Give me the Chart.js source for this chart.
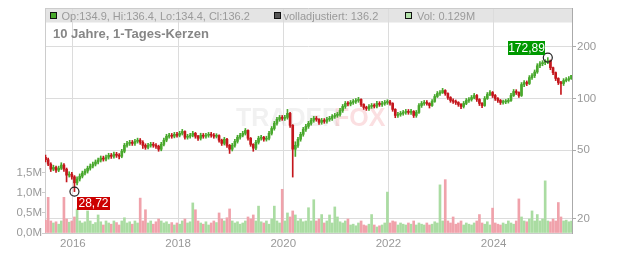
<!DOCTYPE html>
<html>
<head>
<meta charset="utf-8">
<script src="https://cdn.jsdelivr.net/npm/chart.js@4/dist/chart.umd.min.js"></script>
<style>
  html, body { margin: 0; padding: 0; background: #fff; }
  #chart { display: block; }
</style>
</head>
<body>
<canvas id="chart" width="632" height="253"></canvas>
<script>
// half-monthly candles, mid 2015 to mid 2025
const startYear = 2015.48;
const candlesPerYear = 20;
const firstOpen = 45.5;

const closes = [
  44.0, 41.5, 38.8, 39.7, 38.3, 39.3, 41.0, 38.8, 35.8, 36.3,
  35.0, 32.3, 34.0, 35.3, 36.8, 37.8, 39.3, 40.4, 41.5, 42.7,
  43.8, 45.0, 44.4, 45.6, 46.7, 46.1, 47.4, 46.7, 46.1, 49.3,
  53.4, 54.8, 55.6, 54.8, 56.3, 57.2, 55.6, 53.4, 52.0, 53.4,
  54.1, 53.4, 52.7, 50.7, 54.1, 57.2, 60.3, 61.1, 60.3, 61.9,
  61.1, 62.7, 64.3, 59.5, 60.3, 61.1, 62.7, 60.3, 58.7, 61.1,
  60.3, 61.1, 61.9, 61.1, 60.3, 60.8, 57.2, 54.8, 57.9, 53.4,
  50.7, 53.4, 56.3, 59.5, 61.1, 62.7, 65.2, 58.7, 54.1, 51.4,
  55.6, 58.7, 59.5, 57.9, 58.7, 62.7, 66.9, 71.7, 75.6, 77.6,
  76.6, 77.6, 81.9, 69.8, 50.7, 53.4, 57.9, 61.9, 66.1, 68.8,
  71.7, 74.6, 76.6, 75.6, 72.6, 74.6, 73.6, 75.6, 76.6, 78.6,
  79.7, 80.8, 85.2, 89.9, 93.6, 92.8, 94.8, 96.1, 97.4, 98.7,
  92.3, 88.7, 87.5, 89.9, 91.0, 90.2, 93.6, 92.3, 93.6, 94.8,
  95.5, 93.6, 86.4, 79.7, 80.8, 81.9, 83.0, 84.1, 83.0, 84.1,
  79.7, 83.0, 91.0, 93.6, 94.8, 93.6, 91.0, 96.1, 102.7, 106.9,
  108.3, 111.3, 106.9, 101.3, 97.4, 96.1, 94.8, 92.3, 89.9, 93.6,
  97.4, 98.7, 101.3, 104.1, 98.7, 93.6, 91.0, 100.0, 105.5, 108.3,
  104.1, 100.0, 97.4, 94.8, 95.5, 96.1, 97.4, 104.1, 109.8, 108.3,
  104.1, 120.5, 123.8, 122.2, 132.3, 135.9, 142.6, 155.0, 159.4, 161.6,
  163.8, 166.0, 151.0, 141.4, 130.8, 123.8, 122.2, 127.1, 128.8, 130.5,
  136.2
];

const highs = [
  46.8, 45.0, 42.3, 40.9, 40.5, 40.4, 42.3, 41.8, 39.4, 37.5,
  37.2, 35.6, 35.0, 36.4, 37.8, 38.9, 40.4, 41.6, 42.6, 43.9,
  45.0, 46.3, 46.2, 46.8, 48.0, 47.9, 48.7, 48.6, 47.8, 50.6,
  54.8, 56.3, 57.1, 57.0, 57.8, 58.8, 58.5, 56.8, 54.5, 54.8,
  55.6, 55.5, 54.7, 53.5, 55.6, 58.8, 61.9, 62.8, 62.6, 63.5,
  63.5, 64.4, 66.1, 64.9, 61.9, 62.8, 64.4, 63.5, 61.0, 62.8,
  62.6, 62.8, 63.5, 63.5, 62.6, 62.4, 61.5, 58.0, 59.4, 58.6,
  54.0, 54.8, 57.8, 61.1, 62.8, 64.4, 66.9, 65.8, 59.3, 54.6,
  57.0, 60.3, 61.1, 60.2, 60.3, 64.4, 68.7, 73.6, 77.6, 79.7,
  79.6, 79.7, 86.4, 83.0, 70.5, 56.0, 59.5, 63.6, 67.9, 70.7,
  73.6, 76.6, 78.7, 78.6, 76.4, 76.6, 76.4, 77.6, 78.7, 80.7,
  81.9, 83.0, 87.5, 92.3, 96.1, 96.0, 97.4, 98.7, 100.0, 101.5,
  99.5, 93.2, 90.2, 92.3, 93.5, 93.2, 96.1, 95.8, 96.1, 97.4,
  98.3, 97.5, 94.5, 87.2, 83.0, 84.1, 85.2, 86.4, 86.3, 86.4,
  85.0, 85.2, 93.5, 96.1, 97.4, 97.3, 94.5, 98.7, 105.5, 109.8,
  111.3, 114.5, 112.5, 107.8, 102.5, 99.5, 98.0, 95.8, 93.5, 96.1,
  100.0, 101.3, 104.1, 107.0, 105.5, 99.8, 94.8, 102.7, 108.3, 111.3,
  109.8, 105.5, 101.3, 98.7, 98.0, 98.7, 100.0, 107.0, 112.8, 112.5,
  109.5, 123.8, 127.1, 126.5, 135.9, 139.5, 146.5, 159.4, 163.8, 166.0,
  168.2, 172.89, 167.5, 152.5, 142.6, 132.0, 126.0, 130.5, 132.3, 134.1,
  136.4
];

const lows = [
  42.8, 40.6, 37.6, 38.0, 37.2, 37.5, 38.6, 37.6, 32.7, 34.9,
  33.9, 28.72, 31.4, 33.1, 34.5, 35.9, 36.8, 38.3, 39.4, 40.5,
  41.6, 42.7, 43.2, 43.3, 44.4, 44.8, 45.0, 45.4, 44.5, 45.2,
  48.3, 52.1, 53.3, 53.3, 53.4, 55.0, 54.1, 51.2, 50.6, 50.8,
  52.1, 52.0, 51.3, 49.3, 49.6, 53.0, 56.0, 58.8, 58.7, 59.0,
  59.5, 59.8, 61.3, 58.0, 58.0, 58.8, 59.8, 58.7, 57.0, 57.3,
  58.7, 58.8, 59.5, 59.5, 58.7, 58.9, 55.7, 53.3, 53.6, 52.0,
  47.9, 49.5, 52.1, 55.0, 58.0, 59.8, 61.3, 57.2, 52.7, 49.3,
  50.4, 54.3, 57.3, 56.4, 56.5, 57.4, 61.3, 65.4, 70.0, 73.7,
  74.6, 74.6, 75.8, 67.8, 34.9, 46.0, 52.0, 56.4, 60.3, 64.4,
  67.0, 69.9, 72.7, 73.7, 70.7, 70.8, 71.7, 71.8, 73.7, 74.6,
  76.6, 77.7, 79.0, 83.0, 87.6, 90.5, 90.6, 92.4, 93.7, 95.0,
  90.0, 86.4, 85.2, 85.3, 87.6, 88.0, 88.0, 90.0, 90.0, 91.3,
  92.4, 91.3, 84.2, 77.3, 77.7, 78.8, 79.9, 80.9, 80.9, 80.9,
  77.5, 77.7, 82.0, 88.7, 91.3, 91.3, 88.0, 89.9, 95.0, 101.3,
  104.3, 106.9, 104.3, 98.7, 95.0, 93.6, 92.3, 90.0, 87.2, 88.0,
  92.0, 95.0, 96.5, 99.5, 96.1, 91.0, 88.4, 90.0, 98.7, 103.8,
  101.3, 97.4, 94.8, 92.3, 92.6, 93.3, 94.0, 96.1, 102.7, 105.5,
  101.5, 102.7, 117.3, 118.8, 120.5, 129.0, 132.3, 140.0, 151.0, 155.0,
  157.2, 159.4, 147.0, 137.5, 127.1, 120.5, 105.5, 119.0, 124.9, 126.0,
  129.0
];

// volume in millions
const volumes = [
  0.32, 0.89, 0.30, 0.25, 0.28, 0.22, 0.30, 0.89, 0.35, 0.27,
  0.30, 0.40, 0.60, 0.30, 0.25, 0.28, 0.55, 0.30, 0.22, 0.26,
  0.45, 0.28, 0.20, 0.30, 0.25, 0.22, 0.30, 0.26, 0.20, 0.30,
  0.38, 0.25, 0.28, 0.22, 0.30, 0.25, 0.87, 0.30, 0.58, 0.25,
  0.30, 0.22, 0.28, 0.35, 0.30, 0.25, 0.28, 0.22, 0.26, 0.20,
  0.25, 0.22, 0.30, 0.35, 0.25, 0.28, 0.75, 0.58, 0.30, 0.25,
  0.22, 0.28, 0.20, 0.25, 0.30, 0.26, 0.50, 0.35, 0.30, 0.38,
  0.60, 0.30, 0.25, 0.28, 0.22, 0.25, 0.30, 0.40, 0.35, 0.45,
  0.30, 0.67, 0.28, 0.25, 0.30, 0.22, 0.35, 0.67, 0.30, 0.25,
  1.09, 0.30, 0.50, 0.40, 0.55, 0.45, 0.30, 0.35, 0.28, 0.30,
  0.63, 0.30, 0.83, 0.30, 0.35, 0.46, 0.25, 0.30, 0.45, 0.25,
  0.65, 0.40, 0.28, 0.25, 0.30, 0.35, 0.20, 0.22, 0.18, 0.25,
  0.30, 0.20, 0.18, 0.22, 0.46, 0.20, 0.15, 0.18, 0.20, 0.25,
  1.02, 0.25, 0.30, 0.28, 0.20, 0.25, 0.22, 0.20, 0.25, 0.22,
  0.30, 0.20, 0.25, 0.22, 0.20, 0.25, 0.20, 0.22, 0.28, 0.25,
  1.20, 0.30, 1.33, 0.30, 0.25, 0.40, 0.22, 0.25, 0.30, 0.20,
  0.25, 0.22, 0.20, 0.25, 0.30, 0.46, 0.25, 0.22, 0.28, 0.20,
  0.62, 0.25, 0.22, 0.20, 0.25, 0.22, 0.30, 0.25, 0.22, 0.30,
  0.85, 0.40, 0.30, 0.28, 0.35, 0.55, 0.30, 0.46, 0.30, 0.35,
  1.30, 0.30, 0.28, 0.35, 0.30, 0.76, 0.40, 0.30, 0.32, 0.28,
  0.30
];

const yearTicks = [2016, 2018, 2020, 2022, 2024];
const priceTicks = [20, 50, 100, 200];
const volumeTicks = [0, 0.5, 1.0, 1.5];

// last trading day shown in the legend band
const lastOpen = 134.9;
const lastHigh = 136.4;
const lastLow = 134.4;
const lastDayVolume = 0.129;

const upColor = '#48a82c';
const downColor = '#c4161c';
const volUpColor = '#aadca2';
const volDownColor = '#f0a2ab';
const fontFamily = '"Liberation Sans", Arial, sans-serif';

window.onload = function() {
  drawChart();
}

function fmtDe(v) {
  return v.toFixed(2).replace('.', ',');
}

function drawChart() {
  const dates = closes.map((c, i) => startYear + i / candlesPerYear);
  const opens = closes.map((c, i) => i === 0 ? firstOpen : closes[i - 1]);
  const isUp = closes.map((c, i) => c >= opens[i]);

  //min and max markers
  let minIdx = 0, maxIdx = 0;
  for (let i = 0; i < lows.length; i++) {
    if (lows[i] < lows[minIdx]) minIdx = i;
    if (highs[i] > highs[maxIdx]) maxIdx = i;
  }

  const decor = {
    id: 'decor',
    beforeDraw(chart) {
      const ctx = chart.ctx;
      const a = chart.chartArea;
      ctx.save();
      ctx.fillStyle = '#e4e4e4';
      ctx.fillRect(a.left + 1, 9, a.right - a.left - 1, 13.5);
      ctx.restore();
    },
    beforeDatasetsDraw(chart) {
      const ctx = chart.ctx;
      //watermark
      ctx.save();
      ctx.font = 'bold 25px ' + fontFamily;
      ctx.textBaseline = 'alphabetic';
      ctx.fillStyle = 'rgba(190,190,190,0.22)';
      ctx.fillText('TRADER', 236, 126);
      ctx.fillStyle = 'rgba(235,110,120,0.22)';
      ctx.fillText('FOX', 334, 126);
      ctx.restore();
    },
    afterDraw(chart) {
      const ctx = chart.ctx;
      const a = chart.chartArea;
      ctx.save();

      //frame top line
      ctx.strokeStyle = '#cccccc';
      ctx.lineWidth = 1;
      ctx.beginPath();
      ctx.moveTo(a.left, 8.5);
      ctx.lineTo(a.right, 8.5);
      ctx.stroke();

      //legend band
      ctx.font = '11px ' + fontFamily;
      ctx.textBaseline = 'alphabetic';
      const swatches = [
        [50.5, upColor, `Op:${lastOpen}, Hi:${lastHigh}, Lo:${lastLow}, Cl:${closes[closes.length - 1]}`, 61.5],
        [274.5, '#555555', `volladjustiert: ${closes[closes.length - 1]}`, 283.5],
        [405.5, '#b3e2aa', `Vol: ${lastDayVolume}M`, 417]
      ];
      swatches.forEach(s => {
        ctx.fillStyle = s[1];
        ctx.fillRect(s[0], 12.5, 6, 6);
        ctx.strokeStyle = '#111';
        ctx.strokeRect(s[0], 12.5, 6, 6);
        ctx.fillStyle = '#9a9a9a';
        ctx.fillText(s[2], s[3], 19.5);
      });

      //title
      ctx.font = 'bold 13px ' + fontFamily;
      ctx.fillStyle = '#868686';
      ctx.fillText('10 Jahre, 1-Tages-Kerzen', 53, 37.5);

      //min / max labels
      const pts = chart.getDatasetMeta(3).data;
      ctx.font = '12px ' + fontFamily;
      ctx.textBaseline = 'middle';
      ctx.textAlign = 'center';
      const lo = pts[0], hi = pts[1];
      const loTxt = fmtDe(lows[minIdx]);
      const hiTxt = fmtDe(highs[maxIdx]);
      ctx.fillStyle = '#cc0000';
      ctx.fillRect(Math.round(lo.x) + 3, Math.round(lo.y) + 5, 33, 13);
      ctx.fillStyle = '#ffffff';
      ctx.fillText(loTxt, Math.round(lo.x) + 19.5, Math.round(lo.y) + 12);
      ctx.fillStyle = '#009900';
      ctx.fillRect(Math.round(hi.x) - 40, Math.round(hi.y) - 17, 37, 14);
      ctx.fillStyle = '#ffffff';
      ctx.fillText(hiTxt, Math.round(hi.x) - 21.5, Math.round(hi.y) - 9.5);
      ctx.restore();
    }
  };

  const config = {
    type: 'bar',
    data: {
      datasets: [
        {
          label: 'Volumen',
          yAxisID: 'yVol',
          data: volumes.map((v, i) => ({ x: dates[i], y: v })),
          backgroundColor: isUp.map(u => u ? volUpColor : volDownColor),
          barThickness: 2,
          grouped: false,
          order: 4
        },
        {
          label: 'Docht',
          yAxisID: 'y',
          data: closes.map((c, i) => ({ x: dates[i], y: [lows[i], highs[i]] })),
          backgroundColor: isUp.map(u => u ? upColor : downColor),
          barThickness: 1,
          grouped: false,
          order: 3
        },
        {
          label: 'Kerze',
          yAxisID: 'y',
          data: closes.map((c, i) => ({ x: dates[i], y: [opens[i], c] })),
          backgroundColor: isUp.map(u => u ? upColor : downColor),
          barThickness: 2,
          minBarLength: 1,
          grouped: false,
          order: 2
        },
        {
          type: 'line',
          label: 'Extreme',
          yAxisID: 'y',
          data: [
            { x: dates[minIdx], y: lows[minIdx] },
            { x: dates[maxIdx], y: highs[maxIdx] }
          ],
          showLine: false,
          pointRadius: 4.5,
          pointBorderWidth: 1.2,
          pointBorderColor: '#222',
          pointBackgroundColor: 'rgba(0,0,0,0)',
          order: 1
        }
      ]
    },
    options: {
      responsive: false,
      animation: false,
      events: [],
      layout: { padding: { top: 8, left: 0, right: 0, bottom: 0 } },
      plugins: {
        legend: { display: false },
        tooltip: { enabled: false }
      },
      scales: {
        x: {
          type: 'linear',
          min: 2015.47,
          max: 2025.49,
          offset: false,
          grid: { offset: false, color: '#dcdcdc', drawTicks: false },
          border: { display: true, color: '#cccccc' },
          ticks: {
            color: '#999',
            font: { size: 11.5, family: fontFamily },
            padding: 4,
            maxRotation: 0,
            callback: v => String(v)
          },
          afterBuildTicks: s => { s.ticks = yearTicks.map(v => ({ value: v })); },
          afterFit: s => { s.height = 20; }
        },
        y: {
          type: 'logarithmic',
          position: 'right',
          min: 16.5,
          max: 336,
          grid: { color: '#dcdcdc', tickLength: 4, tickColor: '#aaaaaa' },
          border: { display: true, color: '#aaaaaa' },
          ticks: {
            color: '#999',
            font: { size: 11.5, family: fontFamily },
            padding: 1,
            callback: v => String(v)
          },
          afterBuildTicks: s => { s.ticks = priceTicks.map(v => ({ value: v })); },
          afterFit: s => { s.width = 60; }
        },
        yVol: {
          type: 'linear',
          position: 'left',
          min: 0,
          max: 5.61,
          grid: { drawOnChartArea: false, tickLength: 3, tickColor: '#cccccc' },
          border: { display: true, color: '#cccccc' },
          ticks: {
            color: '#999',
            font: { size: 11.5, family: fontFamily },
            padding: 0,
            callback: v => v.toFixed(1).replace('.', ',') + 'M'
          },
          afterBuildTicks: s => { s.ticks = volumeTicks.map(v => ({ value: v })); },
          afterFit: s => { s.width = 45; }
        }
      }
    },
    plugins: [decor]
  };

  new Chart(document.getElementById('chart').getContext('2d'), config);
}
</script>
</body>
</html>
